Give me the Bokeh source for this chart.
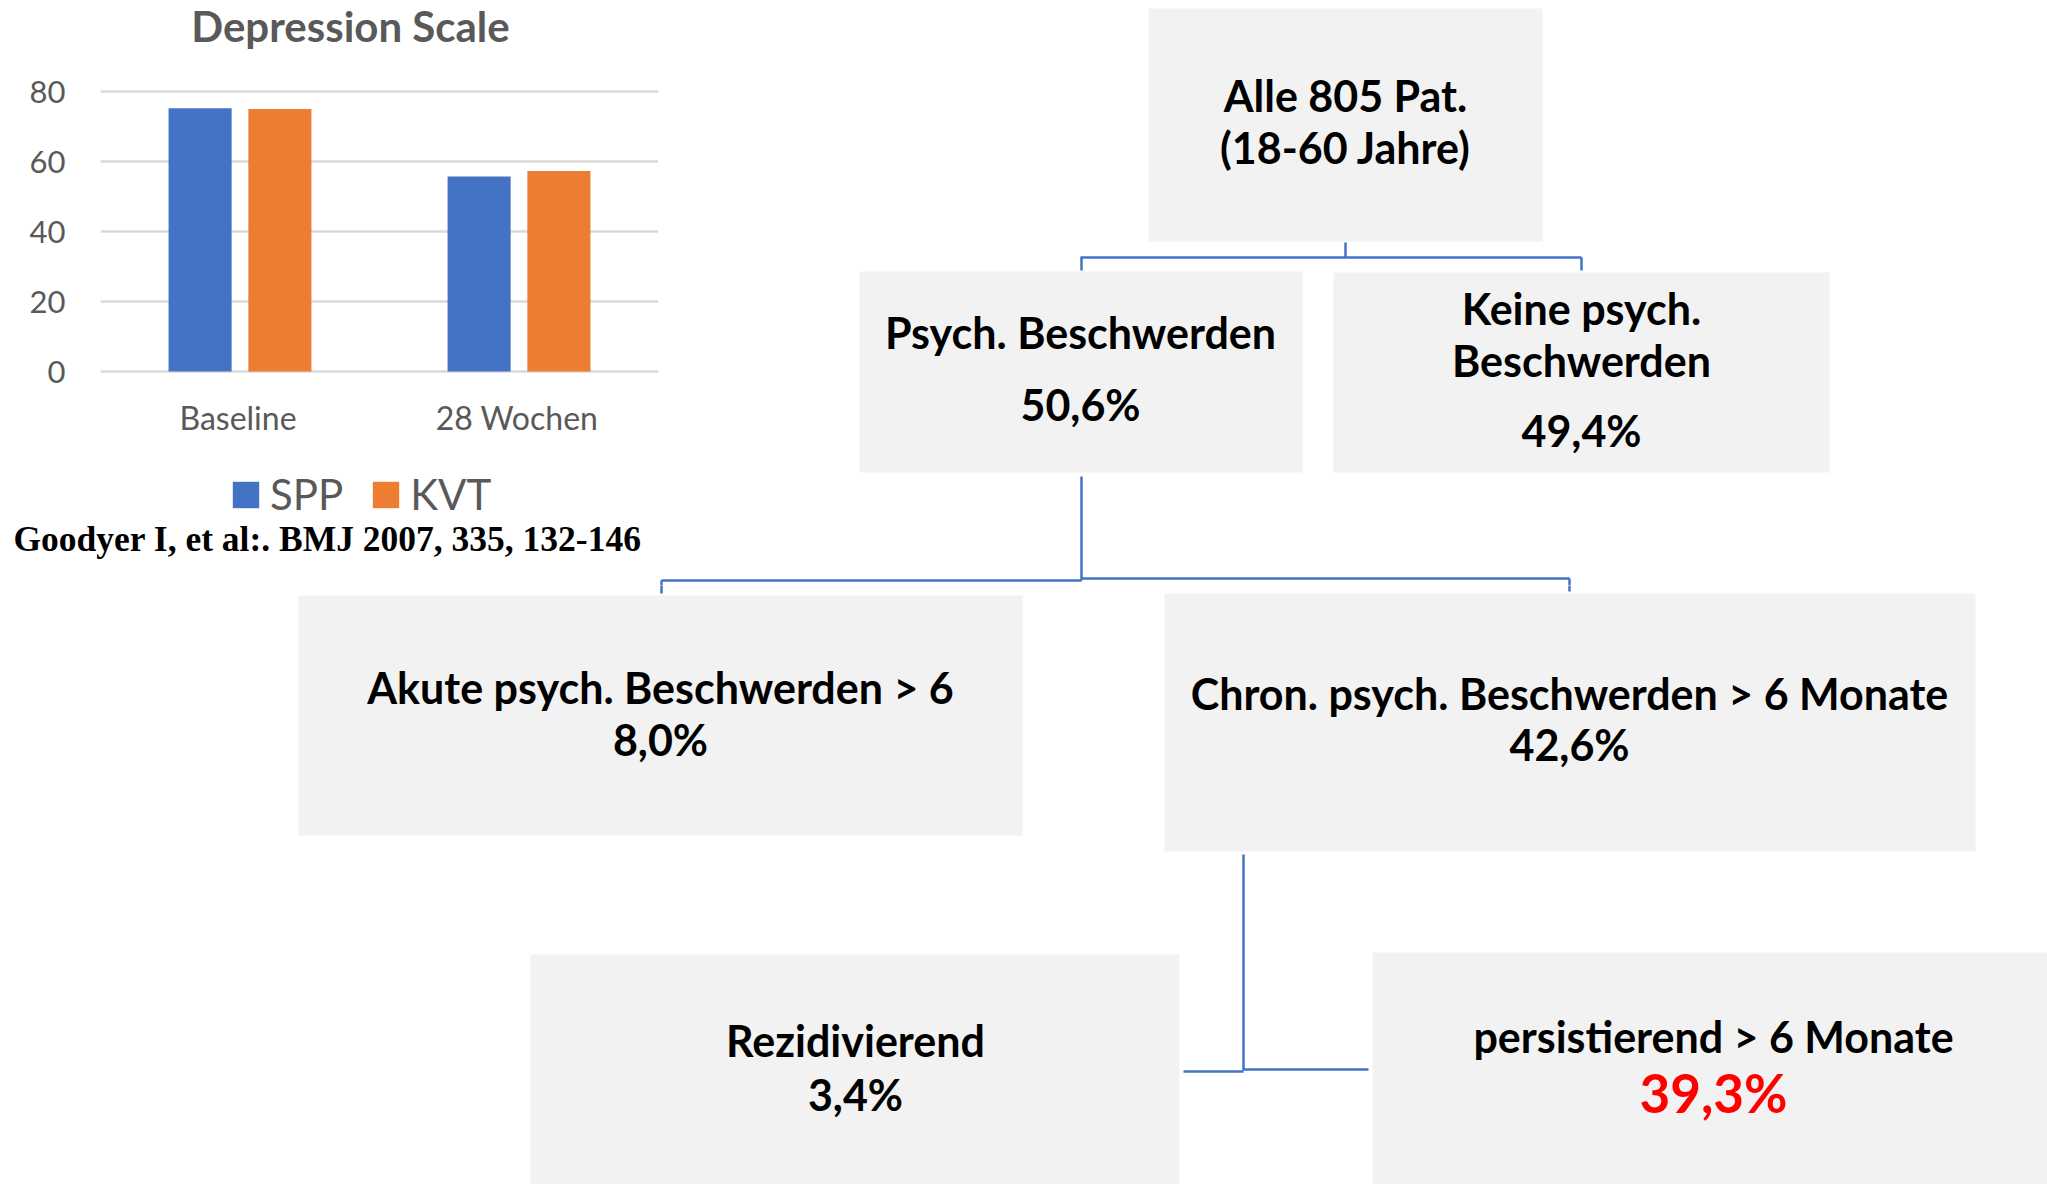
from bokeh.plotting import figure
from bokeh.layouts import column, row
from bokeh.models import (ColumnDataSource, FactorRange, Range1d, FixedTicker,
                          Label, Legend, LegendItem)
from bokeh.transform import dodge
from bokeh.core.properties import value
from bokeh.embed import file_html
from bokeh.resources import INLINE

# ---------------- bar chart data ----------------
categories = ["Baseline", "28 Wochen"]
series_names = ["SPP", "KVT"]
spp_values = [75.2, 55.7]
kvt_values = [75.0, 57.3]
y_ticks = [0, 20, 40, 60, 80]
chart_title = "Depression Scale"
citation = "Goodyer I, et al:. BMJ 2007, 335, 132-146"

# ---------------- flow chart data ----------------
node_lines = [
    ["Alle 805 Pat.", "(18-60 Jahre)"],
    ["Psych. Beschwerden", "50,6%"],
    ["Keine psych.", "Beschwerden", "49,4%"],
    ["Akute psych. Beschwerden > 6", "8,0%"],
    ["Chron. psych. Beschwerden > 6 Monate", "42,6%"],
    ["Rezidivierend", "3,4%"],
    ["persistierend > 6 Monate", "39,3%"],
]
highlight = (6, 1)  # node index, line index shown in red

# ---------------- layout (page pixel coordinates) ----------------
PAGE_W, PAGE_H = 2047, 1184
CHART_W, CHART_H, TOP_H = 658, 520, 585
box_left = [1148, 859, 1333, 298, 1164, 530, 1372]
box_right = [1542, 1302, 1829, 1022, 1975, 1179, 2047]
box_top = [8, 271, 272, 595, 593, 954, 952]
box_bottom = [241, 472, 472, 835, 851, 1184, 1184]
text_x = [1345, 1080, 1581, 660, 1569, 855, 1713]
line_y = [[95, 147], [332, 404], [308, 360, 430], [687, 739],
          [693, 744], [1040, 1094], [1036, 1092]]
connectors = [
    (1345, 242, 1345, 257),
    (1080, 257, 1581, 257),
    (1081, 257, 1081, 270),
    (1581, 257, 1581, 270),
    (1081, 476, 1081, 580),
    (661, 580, 1081, 580),
    (1081, 578, 1569, 578),
    (661, 580, 661, 593),
    (1569, 578, 1569, 591),
    (1243, 854, 1243, 1070),
    (1183, 1071, 1243, 1071),
    (1243, 1069, 1368, 1069),
]

BLUE = "#4472C4"
ORANGE = "#ED7D31"
GREY_TXT = "#595959"
FONT = "Lato"

# ---------------- bar chart figure ----------------
# value v sits at page y = 371 - 3.5 v; frame spans page y 0..CHART_H
y_top = 371 / 3.5
y_bot = (371 - CHART_H) / 3.5
chart = figure(width=CHART_W, height=CHART_H,
               x_range=FactorRange(factors=categories, range_padding=0),
               y_range=Range1d(y_bot, y_top),
               x_axis_location=None,
               toolbar_location=None, output_backend="svg",
               min_border_left=100, min_border_right=0,
               min_border_top=0, min_border_bottom=0,
               outline_line_color=None, frame_align=False)

src = ColumnDataSource(dict(cat=categories, spp=spp_values, kvt=kvt_values))
r_spp = chart.vbar(x=dodge("cat", -0.143, range=chart.x_range), top="spp", bottom=0,
                   width=0.226, source=src, fill_color=BLUE, line_color=None)
r_kvt = chart.vbar(x=dodge("cat", 0.143, range=chart.x_range), top="kvt", bottom=0,
                   width=0.226, source=src, fill_color=ORANGE, line_color=None)

chart.xgrid.grid_line_color = None
chart.ygrid.grid_line_color = "#D9D9D9"
chart.ygrid.grid_line_width = 2.5
chart.yaxis.ticker = FixedTicker(ticks=y_ticks)
ax = chart.yaxis[0]
ax.axis_line_color = None
ax.major_tick_line_color = None
ax.minor_tick_line_color = None
ax.major_tick_out = 0
ax.major_tick_in = 0
ax.major_label_text_font = FONT
ax.major_label_text_font_size = "31px"
ax.major_label_text_color = GREY_TXT
ax.major_label_standoff = 35

# category labels under the bars
chart.text(x="cat", y=-13.2, text="cat", source=src, text_align="center",
           text_baseline="middle", text_font=value(FONT), text_font_size=value("32px"),
           text_color=GREY_TXT, x_offset=-2)

legend = Legend(items=[LegendItem(label=value(series_names[0]), renderers=[r_spp]),
                       LegendItem(label=value(series_names[1]), renderers=[r_kvt])],
                orientation="horizontal", location=(129, 1),
                glyph_width=33, glyph_height=33, label_standoff=8, spacing=26,
                padding=0, margin=0, border_line_color=None, background_fill_alpha=0,
                label_text_font=FONT, label_text_font_size="42px",
                label_text_color=GREY_TXT)
chart.add_layout(legend)

chart.add_layout(Label(x=250, y=CHART_H - 25, x_units="screen", y_units="screen",
                       text=chart_title, text_align="center", text_baseline="middle",
                       text_font=FONT, text_font_style="bold", text_font_size="42px",
                       text_color=GREY_TXT))

# citation strip under the chart
cite = figure(width=CHART_W, height=TOP_H - CHART_H,
              x_range=Range1d(0, CHART_W), y_range=Range1d(TOP_H, CHART_H),
              x_axis_location=None, y_axis_location=None,
              toolbar_location=None, output_backend="svg",
              min_border=0, outline_line_color=None, frame_align=False)
cite.grid.visible = False
cite.text(x=[13], y=[538], text=[citation], text_align="left", text_baseline="middle",
          text_font=value("Liberation Serif"), text_font_style="bold",
          text_font_size=value("35.5px"), text_color="black")

# ---------------- flow chart figures ----------------
rows = []
for i, lines in enumerate(node_lines):
    for j, t in enumerate(lines):
        red = (i, j) == highlight
        rows.append((text_x[i], line_y[i][j], t,
                     "#FF0000" if red else "black", "53px" if red else "43px"))


def make_flow(x0, x1, y0, y1):
    f = figure(width=x1 - x0, height=y1 - y0,
               x_range=Range1d(x0, x1), y_range=Range1d(y1, y0),
               x_axis_location=None, y_axis_location=None,
               toolbar_location=None, output_backend="svg",
               min_border=0, outline_line_color=None, frame_align=False)
    f.grid.visible = False
    f.quad(left=box_left, right=box_right, top=box_top, bottom=box_bottom,
           fill_color="#F2F2F2", line_color=None)
    f.segment(x0=[c[0] for c in connectors], y0=[c[1] for c in connectors],
              x1=[c[2] for c in connectors], y1=[c[3] for c in connectors],
              line_color=BLUE, line_width=2.5)
    mine = [r for r in rows if x0 <= r[0] <= x1 and y0 <= r[1] <= y1]
    ts = ColumnDataSource(dict(x=[r[0] for r in mine], y=[r[1] for r in mine],
                               text=[r[2] for r in mine], color=[r[3] for r in mine],
                               size=[r[4] for r in mine]))
    f.text(x="x", y="y", text="text", source=ts, text_color="color",
           text_font_size="size", text_align="center", text_baseline="middle",
           text_font=value(FONT), text_font_style="bold")
    return f


flow_top = make_flow(CHART_W, PAGE_W, 0, TOP_H)
flow_bot = make_flow(0, PAGE_W, TOP_H, PAGE_H)

layout = column(row(column(chart, cite, spacing=0), flow_top, spacing=0),
                flow_bot, spacing=0)

with open("out.html", "w") as fh:
    fh.write(file_html(layout, INLINE))
